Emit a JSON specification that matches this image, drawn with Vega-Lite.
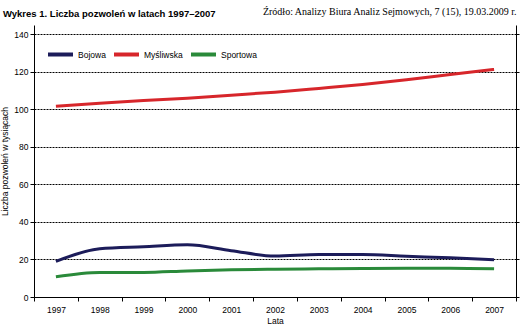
{
  "$schema": "https://vega.github.io/schema/vega-lite/v6.json",
  "width": 482,
  "height": 272,
  "autosize": {"type": "none"},
  "padding": {"left": 34, "top": 25, "right": 5, "bottom": 34},
  "background": "white",
  "config": {
    "view": {"stroke": null},
    "font": "Liberation Sans",
    "axis": {"labelFont": "Liberation Sans", "titleFont": "Liberation Sans", "labelColor": "#000", "titleColor": "#000", "domainColor": "#000", "tickColor": "#000", "titleFontWeight": "normal"}
  },
  "title": {
    "text": "Wykres 1. Liczba pozwoleń w latach 1997–2007",
    "anchor": "start",
    "frame": "group",
    "dx": -31,
    "offset": -12,
    "fontSize": 9.5,
    "fontWeight": "bold",
    "font": "Liberation Sans",
    "color": "#000"
  },
  "data": {
    "values": [
      {"year": "1997", "type": "Bojowa", "value": 19.0},
      {"year": "1998", "type": "Bojowa", "value": 25.7},
      {"year": "1999", "type": "Bojowa", "value": 26.8},
      {"year": "2000", "type": "Bojowa", "value": 27.8},
      {"year": "2001", "type": "Bojowa", "value": 24.7},
      {"year": "2002", "type": "Bojowa", "value": 21.8},
      {"year": "2003", "type": "Bojowa", "value": 22.6},
      {"year": "2004", "type": "Bojowa", "value": 22.6},
      {"year": "2005", "type": "Bojowa", "value": 21.7},
      {"year": "2006", "type": "Bojowa", "value": 20.9},
      {"year": "2007", "type": "Bojowa", "value": 19.8},
      {"year": "1997", "type": "Myśliwska", "value": 101.7},
      {"year": "1998", "type": "Myśliwska", "value": 103.3},
      {"year": "1999", "type": "Myśliwska", "value": 104.7},
      {"year": "2000", "type": "Myśliwska", "value": 106.0},
      {"year": "2001", "type": "Myśliwska", "value": 107.6},
      {"year": "2002", "type": "Myśliwska", "value": 109.2},
      {"year": "2003", "type": "Myśliwska", "value": 111.2},
      {"year": "2004", "type": "Myśliwska", "value": 113.3},
      {"year": "2005", "type": "Myśliwska", "value": 115.8},
      {"year": "2006", "type": "Myśliwska", "value": 118.6},
      {"year": "2007", "type": "Myśliwska", "value": 121.3},
      {"year": "1997", "type": "Sportowa", "value": 10.8},
      {"year": "1998", "type": "Sportowa", "value": 13.1},
      {"year": "1999", "type": "Sportowa", "value": 13.1},
      {"year": "2000", "type": "Sportowa", "value": 13.9},
      {"year": "2001", "type": "Sportowa", "value": 14.5},
      {"year": "2002", "type": "Sportowa", "value": 14.8},
      {"year": "2003", "type": "Sportowa", "value": 15.0},
      {"year": "2004", "type": "Sportowa", "value": 15.2},
      {"year": "2005", "type": "Sportowa", "value": 15.3},
      {"year": "2006", "type": "Sportowa", "value": 15.3},
      {"year": "2007", "type": "Sportowa", "value": 15.0}
    ]
  },
  "resolve": {"axis": {"x": "independent", "y": "independent"}},
  "layer": [
    {
      "mark": {"type": "line", "strokeWidth": 3, "interpolate": "monotone"},
      "encoding": {
        "x": {
          "field": "year", "type": "ordinal", "bandPosition": 0.5,
          "scale": {"type": "band", "paddingInner": 0, "paddingOuter": 0},
          "axis": {"orient": "bottom", "title": "Lata", "labelAngle": 0, "tickBand": "extent", "tickSize": 4, "labelFontSize": 8.5, "titleFontSize": 8.5, "labelPadding": 4, "titlePadding": 3, "grid": false}
        },
        "y": {
          "field": "value", "type": "quantitative",
          "scale": {"domain": [0, 145], "nice": false},
          "axis": {"orient": "left", "title": "Liczba pozwoleń w tysiącach", "values": [0, 20, 40, 60, 80, 100, 120, 140], "tickSize": 4, "labelFontSize": 8.5, "titleFontSize": 8.5, "labelPadding": 2, "titlePadding": 4, "grid": true, "gridColor": "#000", "gridWidth": 1, "gridDash": [2, 1]}
        },
        "color": {
          "field": "type", "type": "nominal",
          "scale": {"domain": ["Bojowa", "Myśliwska", "Sportowa"], "range": ["#1c1c5a", "#d7262b", "#2a8a3a"]},
          "legend": {"orient": "none", "legendX": 12, "legendY": 15, "direction": "horizontal", "title": null, "symbolType": "stroke", "symbolSize": 625, "symbolStrokeWidth": 4, "labelFontSize": 8.5, "labelOffset": 3, "columnPadding": 0, "gridAlign": "none", "labelFont": "Liberation Sans", "labelColor": "#000"}
        }
      }
    },
    {
      "mark": {"type": "line", "opacity": 0},
      "encoding": {
        "x": {
          "field": "year", "type": "ordinal",
          "scale": {"type": "band", "paddingInner": 0, "paddingOuter": 0},
          "axis": {"orient": "top", "title": "Źródło: Analizy Biura Analiz Sejmowych, 7 (15), 19.03.2009 r.", "titleAnchor": "end", "titleFont": "Liberation Serif", "titleFontSize": 10, "titlePadding": 9, "labels": false, "ticks": false, "domain": false, "grid": false}
        },
        "y": {
          "field": "value", "type": "quantitative",
          "scale": {"domain": [0, 145], "nice": false},
          "axis": {"orient": "right", "title": null, "labels": false, "values": [0, 20, 40, 60, 80, 100, 120, 140], "tickSize": 3, "grid": false}
        },
        "detail": {"field": "type"}
      }
    }
  ]
}
